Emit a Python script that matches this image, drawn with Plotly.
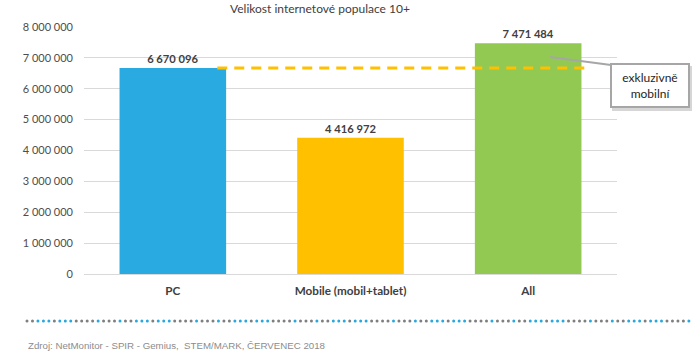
import plotly.graph_objects as go

categories = ["PC", "Mobile (mobil+tablet)", "All"]
values = [6670096, 4416972, 7471484]
bar_colors = ["#29ABE2", "#FFC000", "#92C953"]
y_ticks = [0, 1000000, 2000000, 3000000, 4000000, 5000000, 6000000, 7000000, 8000000]
title_text = "Velikost internetové populace 10+"
callout_text = "exkluzivně<br>mobilní"
source_text = "Zdroj: NetMonitor - SPIR - Gemius,  STEM/MARK, ČERVENEC 2018"

FONT = "Lato"
W, H = 700, 358
L, R, T, B = 84, 83, 27, 84
PX0, PX1, PY0, PY1 = L, W - R, T, H - B


def px(x):
    return (x - PX0) / (PX1 - PX0)


def py(y):
    return (PY1 - y) / (PY1 - PY0)


def fmt(v):
    return f"{v:,}".replace(",", " ")


fig = go.Figure()
fig.add_trace(go.Bar(
    x=categories, y=values,
    marker=dict(color=bar_colors, line=dict(width=0)),
    width=0.6,
    text=[fmt(v) for v in values],
    textposition="outside",
    textfont=dict(family=FONT, size=11.2, color="#404040", weight="bold"),
    cliponaxis=False,
    hoverinfo="skip",
))

shapes = []
# dashed reference line at PC level
shapes.append(dict(type="line", xref="x", yref="y", x0=0.25, x1=2.32,
                   y0=values[0], y1=values[0],
                   line=dict(color="#FFC000", width=3, dash="10px,7px"), layer="above"))
# callout connector
shapes.append(dict(type="line", xref="paper", yref="paper",
                   x0=px(550), y0=py(57), x1=px(611), y1=py(65),
                   line=dict(color="#A6A6A6", width=2), layer="above"))
# callout shadow
shapes.append(dict(type="rect", xref="paper", yref="paper",
                   x0=px(612), x1=px(692), y0=py(111), y1=py(66),
                   fillcolor="rgba(120,120,120,0.3)", line=dict(width=0), layer="above"))

# dotted separator
pattern = "ggbbbgbbbggggbgggb"
x = 27.0
i = 0
while x <= 690:
    c = "#29A8E0" if pattern[i % len(pattern)] == "b" else "#7F7F7F"
    shapes.append(dict(type="circle", xref="paper", yref="paper",
                       xsizemode="pixel", ysizemode="pixel",
                       xanchor=px(x), yanchor=py(321),
                       x0=-1.5, x1=1.5, y0=-1.5, y1=1.5,
                       fillcolor=c, line=dict(width=0)))
    x += 5.47
    i += 1

annotations = [
    dict(text=title_text, xref="paper", yref="paper", x=px(320), y=py(9),
         showarrow=False, xanchor="center", yanchor="middle",
         font=dict(family=FONT, size=12, color="#404040")),
    dict(text=callout_text, xref="paper", yref="paper", x=px(649.5), y=py(85.5),
         xanchor="center", yanchor="middle",
         showarrow=False, bgcolor="white", bordercolor="#A6A6A6", borderwidth=2,
         width=74, height=39, borderpad=1,
         font=dict(family=FONT, size=12, color="#262626")),
    dict(text=source_text, xref="paper", yref="paper", x=px(26), y=py(345),
         showarrow=False, xanchor="left", yanchor="middle",
         font=dict(family="Liberation Sans", size=9.7, color="#8C8C8C")),
]

fig.update_layout(
    width=W, height=H,
    margin=dict(l=L, r=R, t=T, b=B),
    paper_bgcolor="white", plot_bgcolor="white",
    separators=", ",
    showlegend=False,
    bargap=0.4,
    shapes=shapes,
    annotations=annotations,
    xaxis=dict(showgrid=False, showline=False, ticks="",
               tickfont=dict(family=FONT, size=11.7, color="#404040", weight="bold"),
               ticklabelstandoff=8),
    yaxis=dict(range=[0, 8000000], tickvals=y_ticks,
               ticktext=[fmt(v) for v in y_ticks],
               showgrid=True, gridcolor="#D9D9D9", gridwidth=1,
               zeroline=True, zerolinecolor="#D9D9D9", zerolinewidth=1,
               showline=False, ticks="",
               tickfont=dict(family=FONT, size=11, color="#4D4D4D"),
               ticklabelstandoff=10),
)

fig.write_html("out.html", config={"displayModeBar": False},
               post_script="document.body.style.margin='0px';")
